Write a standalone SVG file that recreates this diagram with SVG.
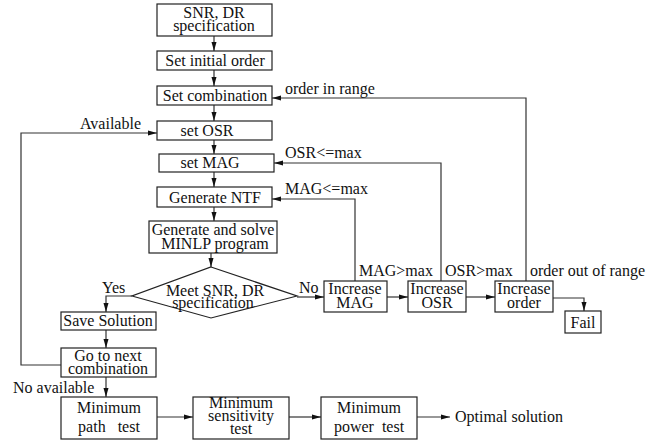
<svg xmlns="http://www.w3.org/2000/svg" width="664" height="441" viewBox="0 0 664 441" font-family="'Liberation Serif', 'Times New Roman', 'DejaVu Serif', serif">
<defs>
<marker id="ah" markerWidth="10" markerHeight="8" refX="9" refY="4" orient="auto" markerUnits="userSpaceOnUse">
<path d="M0,1.5 L9,4 L0,6.5 z" fill="#111"/>
</marker>
<style>
rect,polygon{fill:#fff;stroke:#222;stroke-width:1.2}
.c path,.c line{fill:none;stroke:#333;stroke-width:1.2}
.a{marker-end:url(#ah)}
text{font-family:'Liberation Serif','Times New Roman','DejaVu Serif',serif;font-size:16px;fill:#111;white-space:pre}
.m{text-anchor:middle}
</style>
</defs>
<g class="c">
<line class="a" x1="214" y1="36" x2="214" y2="51"/>
<line class="a" x1="214" y1="70" x2="214" y2="86"/>
<line class="a" x1="214" y1="105" x2="214" y2="121"/>
<line class="a" x1="214" y1="140" x2="214" y2="154"/>
<line class="a" x1="214" y1="172" x2="214" y2="187"/>
<line class="a" x1="214" y1="207" x2="214" y2="221"/>
<line class="a" x1="211" y1="253" x2="211" y2="267"/>
<path class="a" d="M526,281 V98 H272"/>
<path class="a" d="M441,281 V163 H274"/>
<path class="a" d="M355,281 V199 H272"/>
<line class="a" x1="297" y1="297" x2="324" y2="297"/>
<line class="a" x1="387" y1="297" x2="408" y2="297"/>
<line class="a" x1="466" y1="297" x2="495" y2="297"/>
<path class="a" d="M553,298 H584 V311"/>
<path class="a" d="M132,296 H106 V312"/>
<line class="a" x1="106" y1="330" x2="106" y2="348"/>
<path class="a" d="M61,365 H21 V133 H157"/>
<line class="a" x1="106" y1="377" x2="106" y2="397"/>
<line class="a" x1="157" y1="417" x2="193" y2="417"/>
<line class="a" x1="289" y1="417" x2="321" y2="417"/>
<line class="a" x1="417" y1="417" x2="450" y2="417"/>
</g>
<g id="labels">
<text x="285" y="94">order in range</text>
<text x="80" y="129">Available</text>
<text x="285" y="158">OSR&lt;=max</text>
<text x="285" y="194">MAG&lt;=max</text>
<text x="359" y="276">MAG&gt;max</text>
<text x="445" y="276">OSR&gt;max</text>
<text x="530" y="276">order out of range</text>
<text x="102" y="293">Yes</text>
<text x="299" y="293">No</text>
<text x="13" y="393">No available</text>
<text x="455" y="422">Optimal solution</text>
</g>
<g id="n-spec"><rect x="157" y="4" width="115" height="32"/><text class="m"><tspan x="214" y="18">SNR, DR</tspan><tspan x="214" y="31">specification</tspan></text></g>
<g id="n-init"><rect x="157" y="51" width="115" height="19"/><text class="m" x="215" y="66">Set initial order</text></g>
<g id="n-comb"><rect x="157" y="86" width="115" height="19"/><text class="m" x="215" y="101">Set combination</text></g>
<g id="n-osr"><rect x="157" y="121" width="115" height="19"/><text class="m" x="207" y="136">set OSR</text></g>
<g id="n-mag"><rect x="159" y="154" width="115" height="18"/><text class="m" x="210" y="168">set MAG</text></g>
<g id="n-ntf"><rect x="157" y="187" width="115" height="20"/><text class="m" x="215" y="203">Generate NTF</text></g>
<g id="n-minlp"><rect x="149" y="221" width="128" height="32"/><text class="m"><tspan x="213" y="235">Generate and solve</tspan><tspan x="215" y="249">MINLP program</tspan></text></g>
<g id="n-meet"><polygon points="211,267 297,296 211,318 132,296"/><text class="m"><tspan x="215" y="296">Meet SNR, DR</tspan><tspan x="213" y="308">specification</tspan></text></g>
<g id="n-imag"><rect x="324" y="281" width="63" height="31"/><text class="m"><tspan x="355" y="294">Increase</tspan><tspan x="355" y="308">MAG</tspan></text></g>
<g id="n-iosr"><rect x="408" y="281" width="58" height="31"/><text class="m"><tspan x="437" y="294">Increase</tspan><tspan x="437" y="308">OSR</tspan></text></g>
<g id="n-iord"><rect x="495" y="281" width="58" height="31"/><text class="m"><tspan x="524" y="294">Increase</tspan><tspan x="524" y="308">order</tspan></text></g>
<g id="n-fail"><rect x="565" y="311" width="36" height="22"/><text class="m" x="583" y="328">Fail</text></g>
<g id="n-save"><rect x="61" y="312" width="95" height="18"/><text class="m" x="108" y="326">Save Solution</text></g>
<g id="n-next"><rect x="61" y="348" width="95" height="29"/><text class="m"><tspan x="108" y="361">Go to next</tspan><tspan x="108" y="374">combination</tspan></text></g>
<g id="n-path"><rect x="61" y="397" width="96" height="42"/><text class="m" xml:space="preserve"><tspan x="109" y="413">Minimum</tspan><tspan x="109" y="432">path   test</tspan></text></g>
<g id="n-sens"><rect x="193" y="397" width="96" height="42"/><text class="m"><tspan x="241" y="408">Minimum</tspan><tspan x="241" y="421">sensitivity</tspan><tspan x="241" y="434">test</tspan></text></g>
<g id="n-power"><rect x="321" y="397" width="96" height="42"/><text class="m" xml:space="preserve"><tspan x="369" y="413">Minimum</tspan><tspan x="369" y="432">power  test</tspan></text></g>
</svg>
